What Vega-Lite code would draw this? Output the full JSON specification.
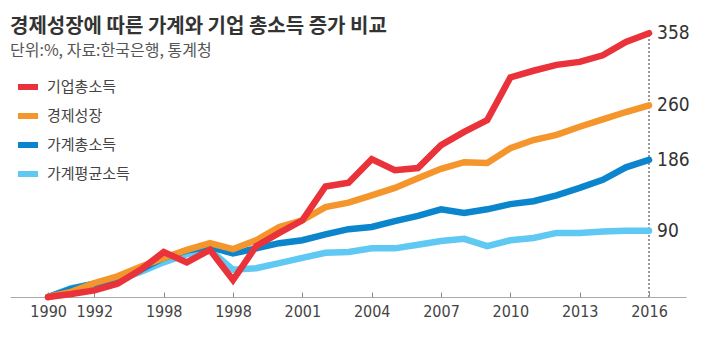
{
  "$schema": "https://vega.github.io/schema/vega-lite/v6.json",
  "autosize": "none",
  "width": 676,
  "height": 237,
  "padding": {"left": 10, "right": 20, "top": 60, "bottom": 40},
  "background": "white",
  "config": {"view": {"stroke": null}, "font": "Noto Sans CJK KR"},
  "title": {
    "text": "경제성장에 따른 가계와 기업 총소득 증가 비교",
    "subtitle": "단위:%, 자료:한국은행, 통계청",
    "anchor": "start",
    "frame": "group",
    "font": "Noto Sans CJK KR",
    "fontSize": 20,
    "fontWeight": "bold",
    "color": "#333333",
    "subtitleFont": "Noto Sans CJK KR",
    "subtitleFontSize": 16,
    "subtitleColor": "#555555",
    "subtitlePadding": 6,
    "offset": -39
  },
  "data": {
    "values": [
      {"series": "가계평균소득", "year": 1990, "value": 0},
      {"series": "가계평균소득", "year": 1991, "value": 12},
      {"series": "가계평균소득", "year": 1992, "value": 18},
      {"series": "가계평균소득", "year": 1993, "value": 23},
      {"series": "가계평균소득", "year": 1994, "value": 34},
      {"series": "가계평균소득", "year": 1995, "value": 47},
      {"series": "가계평균소득", "year": 1996, "value": 58},
      {"series": "가계평균소득", "year": 1997, "value": 64},
      {"series": "가계평균소득", "year": 1998, "value": 37},
      {"series": "가계평균소득", "year": 1999, "value": 39},
      {"series": "가계평균소득", "year": 2000, "value": 46},
      {"series": "가계평균소득", "year": 2001, "value": 53},
      {"series": "가계평균소득", "year": 2002, "value": 60},
      {"series": "가계평균소득", "year": 2003, "value": 61},
      {"series": "가계평균소득", "year": 2004, "value": 66},
      {"series": "가계평균소득", "year": 2005, "value": 66},
      {"series": "가계평균소득", "year": 2006, "value": 71},
      {"series": "가계평균소득", "year": 2007, "value": 76},
      {"series": "가계평균소득", "year": 2008, "value": 79},
      {"series": "가계평균소득", "year": 2009, "value": 69},
      {"series": "가계평균소득", "year": 2010, "value": 77},
      {"series": "가계평균소득", "year": 2011, "value": 80},
      {"series": "가계평균소득", "year": 2012, "value": 87},
      {"series": "가계평균소득", "year": 2013, "value": 87},
      {"series": "가계평균소득", "year": 2014, "value": 89},
      {"series": "가계평균소득", "year": 2015, "value": 90},
      {"series": "가계평균소득", "year": 2016, "value": 90},
      {"series": "가계총소득", "year": 1990, "value": 0},
      {"series": "가계총소득", "year": 1991, "value": 11},
      {"series": "가계총소득", "year": 1992, "value": 18},
      {"series": "가계총소득", "year": 1993, "value": 23},
      {"series": "가계총소득", "year": 1994, "value": 37},
      {"series": "가계총소득", "year": 1995, "value": 53},
      {"series": "가계총소득", "year": 1996, "value": 63},
      {"series": "가계총소득", "year": 1997, "value": 68},
      {"series": "가계총소득", "year": 1998, "value": 59},
      {"series": "가계총소득", "year": 1999, "value": 66},
      {"series": "가계총소득", "year": 2000, "value": 73},
      {"series": "가계총소득", "year": 2001, "value": 77},
      {"series": "가계총소득", "year": 2002, "value": 85},
      {"series": "가계총소득", "year": 2003, "value": 92},
      {"series": "가계총소득", "year": 2004, "value": 95},
      {"series": "가계총소득", "year": 2005, "value": 103},
      {"series": "가계총소득", "year": 2006, "value": 110},
      {"series": "가계총소득", "year": 2007, "value": 119},
      {"series": "가계총소득", "year": 2008, "value": 114},
      {"series": "가계총소득", "year": 2009, "value": 119},
      {"series": "가계총소득", "year": 2010, "value": 126},
      {"series": "가계총소득", "year": 2011, "value": 130},
      {"series": "가계총소득", "year": 2012, "value": 138},
      {"series": "가계총소득", "year": 2013, "value": 148},
      {"series": "가계총소득", "year": 2014, "value": 159},
      {"series": "가계총소득", "year": 2015, "value": 176},
      {"series": "가계총소득", "year": 2016, "value": 186},
      {"series": "경제성장", "year": 1990, "value": 0},
      {"series": "경제성장", "year": 1991, "value": 7},
      {"series": "경제성장", "year": 1992, "value": 19},
      {"series": "경제성장", "year": 1993, "value": 28},
      {"series": "경제성장", "year": 1994, "value": 41},
      {"series": "경제성장", "year": 1995, "value": 53},
      {"series": "경제성장", "year": 1996, "value": 64},
      {"series": "경제성장", "year": 1997, "value": 73},
      {"series": "경제성장", "year": 1998, "value": 65},
      {"series": "경제성장", "year": 1999, "value": 77},
      {"series": "경제성장", "year": 2000, "value": 95},
      {"series": "경제성장", "year": 2001, "value": 104},
      {"series": "경제성장", "year": 2002, "value": 122},
      {"series": "경제성장", "year": 2003, "value": 128},
      {"series": "경제성장", "year": 2004, "value": 138},
      {"series": "경제성장", "year": 2005, "value": 148},
      {"series": "경제성장", "year": 2006, "value": 161},
      {"series": "경제성장", "year": 2007, "value": 174},
      {"series": "경제성장", "year": 2008, "value": 183},
      {"series": "경제성장", "year": 2009, "value": 182},
      {"series": "경제성장", "year": 2010, "value": 202},
      {"series": "경제성장", "year": 2011, "value": 213},
      {"series": "경제성장", "year": 2012, "value": 220},
      {"series": "경제성장", "year": 2013, "value": 231},
      {"series": "경제성장", "year": 2014, "value": 241},
      {"series": "경제성장", "year": 2015, "value": 251},
      {"series": "경제성장", "year": 2016, "value": 260},
      {"series": "기업총소득", "year": 1990, "value": 0},
      {"series": "기업총소득", "year": 1991, "value": 4},
      {"series": "기업총소득", "year": 1992, "value": 9},
      {"series": "기업총소득", "year": 1993, "value": 18},
      {"series": "기업총소득", "year": 1994, "value": 37},
      {"series": "기업총소득", "year": 1995, "value": 61},
      {"series": "기업총소득", "year": 1996, "value": 47},
      {"series": "기업총소득", "year": 1997, "value": 64},
      {"series": "기업총소득", "year": 1998, "value": 23},
      {"series": "기업총소득", "year": 1999, "value": 69},
      {"series": "기업총소득", "year": 2000, "value": 87},
      {"series": "기업총소득", "year": 2001, "value": 104},
      {"series": "기업총소득", "year": 2002, "value": 150},
      {"series": "기업총소득", "year": 2003, "value": 155},
      {"series": "기업총소득", "year": 2004, "value": 187},
      {"series": "기업총소득", "year": 2005, "value": 172},
      {"series": "기업총소득", "year": 2006, "value": 175},
      {"series": "기업총소득", "year": 2007, "value": 206},
      {"series": "기업총소득", "year": 2008, "value": 224},
      {"series": "기업총소득", "year": 2009, "value": 240},
      {"series": "기업총소득", "year": 2010, "value": 298},
      {"series": "기업총소득", "year": 2011, "value": 307},
      {"series": "기업총소득", "year": 2012, "value": 315},
      {"series": "기업총소득", "year": 2013, "value": 319},
      {"series": "기업총소득", "year": 2014, "value": 328},
      {"series": "기업총소득", "year": 2015, "value": 346},
      {"series": "기업총소득", "year": 2016, "value": 358}
    ]
  },
  "encoding": {
    "x": {
      "field": "year",
      "type": "quantitative",
      "scale": {"domain": [1988.35, 2017.6], "nice": false, "zero": false},
      "axis": {
        "title": null,
        "values": [1990, 1992, 1995, 1998, 2001, 2004, 2007, 2010, 2013, 2016],
        "format": "d",
        "labelExpr": "datum.value == 1995 ? '1998' : datum.label",
        "grid": false,
        "domainColor": "#aaaaaa",
        "domainWidth": 1,
        "tickColor": "#888888",
        "tickSize": -5,
        "tickWidth": 1,
        "labelFont": "Liberation Sans Narrow, DejaVu Sans Condensed, Roboto Condensed, Roboto, sans-serif",
        "labelFontSize": 16,
        "labelColor": "#444444",
        "labelPadding": 11,
        "labelFlush": false
      }
    },
    "y": {
      "field": "value",
      "type": "quantitative",
      "scale": {"domain": [0, 321.6], "nice": false, "zero": true},
      "axis": null
    }
  },
  "layer": [
    {
      "mark": {"type": "rule", "strokeDash": [1.5, 2.5], "strokeWidth": 1.5, "color": "#999999"},
      "encoding": {
        "x": {"datum": 2016, "type": "quantitative"},
        "y": {"datum": 0, "type": "quantitative"},
        "y2": {"datum": 362}
      }
    },
    {
      "mark": {"type": "line", "strokeWidth": 6.5, "strokeCap": "round", "strokeJoin": "miter"},
      "encoding": {
        "color": {
          "field": "series",
          "type": "nominal",
          "scale": {
            "domain": ["기업총소득", "경제성장", "가계총소득", "가계평균소득"],
            "range": ["#e9323a", "#f5962d", "#0b86cc", "#5fc9f3"]
          },
          "legend": {
            "orient": "none",
            "legendX": 5,
            "legendY": 14,
            "title": null,
            "symbolType": "stroke",
            "symbolStrokeWidth": 6,
            "symbolSize": 400,
            "labelFont": "Noto Sans CJK KR",
            "labelFontSize": 15,
            "labelColor": "#444444",
            "labelOffset": 6,
            "rowPadding": 4
          }
        }
      }
    },
    {
      "transform": [{"filter": "datum.year == 2016"}],
      "mark": {"type": "text", "align": "left", "baseline": "middle", "dx": 8, "font": "Liberation Sans Narrow, DejaVu Sans Condensed, Roboto Condensed, Roboto, sans-serif", "fontSize": 19, "color": "#333333"},
      "encoding": {
        "text": {"field": "value", "type": "quantitative", "format": "d"}
      }
    }
  ]
}
